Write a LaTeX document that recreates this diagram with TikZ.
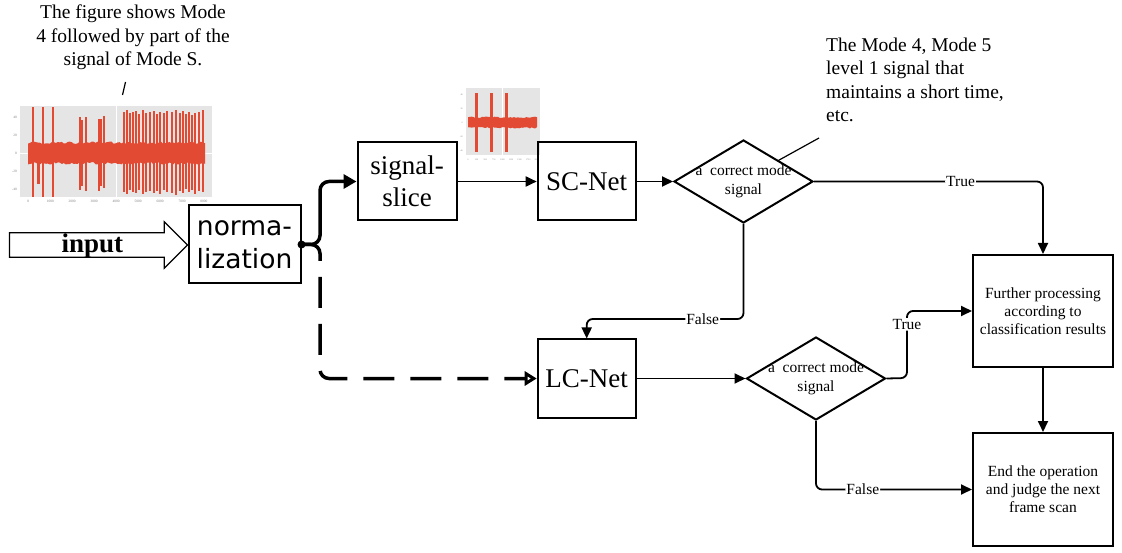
\documentclass[tikz,border=0pt]{standalone}
\usepackage{fontspec}
\setmainfont{Liberation Serif}
\newfontfamily\normfont{DejaVu Sans}
\usetikzlibrary{arrows.meta,positioning,shapes.geometric,shapes.arrows}
\definecolor{sigred}{RGB}{226,74,51}
\definecolor{panelgrey}{RGB}{229,229,229}
\tikzset{
	x=1pt, y=-1pt,
	box/.style={draw, line width=2pt, inner sep=0pt, align=center, font=\fontsize{27}{31.5}\selectfont},
	infobox/.style={draw, line width=2pt, inner sep=0pt, align=center, minimum width=140pt, font=\fontsize{15.5}{18}\selectfont},
	decision/.style={diamond, draw, line width=2pt, inner sep=0pt, minimum width=139pt, minimum height=83pt},
	inarrow/.style={single arrow, draw, line width=1.2pt, single arrow head extend=11pt, minimum height=178pt, text height=19pt, text depth=4.4pt, inner ysep=0pt, inner xsep=4pt, font=\bfseries\fontsize{27}{30}\selectfont},
	flow/.style={line width=1.8pt, rounded corners=6pt, -{Triangle[length=11pt,width=10pt]}}, % thin connectors
	branch/.style={line width=3.5pt, rounded corners=9pt},
	lbl/.style={fill=white, inner sep=1pt, font=\fontsize{15.5}{18}\selectfont},
	note/.style={align=left, inner sep=0pt, font=\fontsize{19.5}{23.5}\selectfont},
	axislbl/.style={inner sep=0pt, text=gray, font=\fontsize{3.5}{4}\selectfont},
}
\begin{document}
\begin{tikzpicture}[node distance=100pt, on grid]
	\useasboundingbox (0,0) rectangle (1122,553);

	% captions
	\node[note, align=center, anchor=north] (capL) at (133,5) {The figure shows Mode\\4 followed by part of the\\signal of Mode S.};
	\coordinate (capLtip) at (122.5,95);
	\draw[line width=1.2pt] (capLtip) -- (125.5,82);

	% first signal
	\fill[panelgrey] (20,106) rectangle (212,197);
	\draw[white, line width=0.8pt] (116,106) -- (116,197) (20,153.3) -- (212,153.3);
	\pgfmathsetseed{7}
	\fill[sigred] plot[domain=28:205, samples=90] (\x,{144-2.5*rnd}) -- plot[domain=205:28, samples=90] (\x,{162+2.5*rnd}) -- cycle;
	\foreach \sx/\st/\sb in {33.1/107/197, 38.5/146/184, 43.2/107/197, 53.3/107/197, 79.7/117/190, 82/120/186, 85.6/117/191, 98.6/119/191, 100.8/119/186, 104/116/188,
		124/112/192, 126.7/110/194, 130/113/190, 132.7/112/192, 136/111/193, 139.3/114/190, 143.3/110/194, 145.7/113/192, 150/112/191, 154/111/193, 157.3/114/191, 160/112/194,
		164/113/190, 166.7/111/192, 171.7/112/193, 176/110/195, 180/113/191, 182.7/111/193, 186/114/189, 189.3/112/192, 191.7/115/190, 195/113/194, 199.3/112/191, 203.3/110/192}
		\fill[sigred] (\sx-1.1,\st) rectangle (\sx+1.1,\sb);
	\foreach \lb [count=\i from 0] in {0,1000,2000,3000,4000,5000,6000,7000,8000}
		\node[axislbl] at (28.3+21.96*\i,201) {\lb};
	\foreach \lb [count=\i from 0] in {40,20,0,-20,-40}
		\node[axislbl, anchor=east] at (17,117.3+18*\i) {\lb};

	% second signal
	\fill[panelgrey] (466,88) rectangle (540,155);
	\draw[white, line width=0.6pt] (502,88) -- (502,155);
	\fill[sigred] plot[domain=468:537, samples=40] (\x,{118-1.5*rnd}) -- plot[domain=537:468, samples=40] (\x,{127+1.5*rnd}) -- cycle;
	\foreach \sx in {476.7,491.7,506.7}
		\fill[sigred] (\sx-1.5,93) rectangle (\sx+1.5,152);
	\foreach \lb [count=\i from 0] in {0,250,500,750,1000,1250,1500,1750,2000}
		\node[axislbl, font=\fontsize{2.2}{3}\selectfont] at (468+8.6*\i,160) {\lb};
	\foreach \lb [count=\i from 0] in {40,20,0,-20,-40}
		\node[axislbl, font=\fontsize{2.2}{3}\selectfont, anchor=east] at (463,95+13.9*\i) {\lb};

	% blocks
	\node[inarrow, anchor=tip] (input) at (188.3,245) {input};
	\node[box, font=\normfont\fontsize{26.5}{33}\selectfont, minimum width=112pt, minimum height=78pt] (norm) at (244.5,244.5) {norma-\\lization};
	\node[box, minimum width=99pt, minimum height=78pt] (slice) at (407,181.5) {signal-\\slice};
	\node[box, minimum width=98pt, minimum height=78pt, right=179.7pt of slice] (sc) {SC-Net};
	\node[box, minimum width=98pt, minimum height=78pt, below=197pt of sc] (lc) {LC-Net};
	\node[decision, right=156.8pt of sc, label={[align=center, inner sep=0pt, font=\fontsize{15.5}{19}\selectfont]center:a~~correct mode\\signal}] (dA) {};
	\node[decision, right=229.3pt of lc, label={[align=center, inner sep=0pt, font=\fontsize{15.5}{19}\selectfont]center:a~~correct mode\\signal}] (dB) {};
	\node[infobox, minimum height=112pt] (further) at (1043,311) {Further processing\\according to\\classification results};
	\node[infobox, minimum height=113pt] (stop) at (1043,489.5) {End the operation\\and judge the next\\frame scan};

	\node[note, anchor=north west] (capR) at (826,37.4) {The Mode 4, Mode 5\\level 1 signal that\\maintains a short time,\\etc.};
	\coordinate (capRtip) at (819,138);
	\draw[line width=1.2pt] (dA.north east) -- (capRtip);

	% branch after normalization
	\coordinate (split) at (320,244.5);
	\coordinate (splitUp) at (320,181.5);
	\coordinate (splitDn) at (320,378.5);
	\fill (norm.east) circle (4);
	\draw[branch, -{Triangle[length=13pt,width=14pt]}] (norm.east) -- (split) -- (splitUp) -- (slice.west);
	\draw[branch, dash pattern=on 31pt off 16pt, -{Triangle[open,length=12pt,width=14pt]}] (norm.east) -- (split) -- (splitDn) -- (lc.west);

	% connectors
	\coordinate (bendF) at (586.7,319);
	\coordinate (bendTa) at (907,378);
	\coordinate (bendTb) at (907,311);
	\draw[flow] (slice.east) -- (sc.west);
	\draw[flow] (sc.east) -- (dA.west);
	\draw[flow] (dA.east) -| node[lbl, pos=0.32] {True} (further.north);
	\draw[flow] (dA.south) |- node[lbl, pos=0.63] {False} (bendF) -- (lc.north);
	\draw[flow] (lc.east) -- (dB.west);
	\draw[flow] (dB.east) -- (bendTa) -- node[lbl, pos=0.8] {True} (bendTb) -- (further.west);
	\draw[flow] (dB.south) |- node[lbl, pos=0.65] {False} (stop.west);
	\draw[flow] (further.south) -- (stop.north);
\end{tikzpicture}
\end{document}
